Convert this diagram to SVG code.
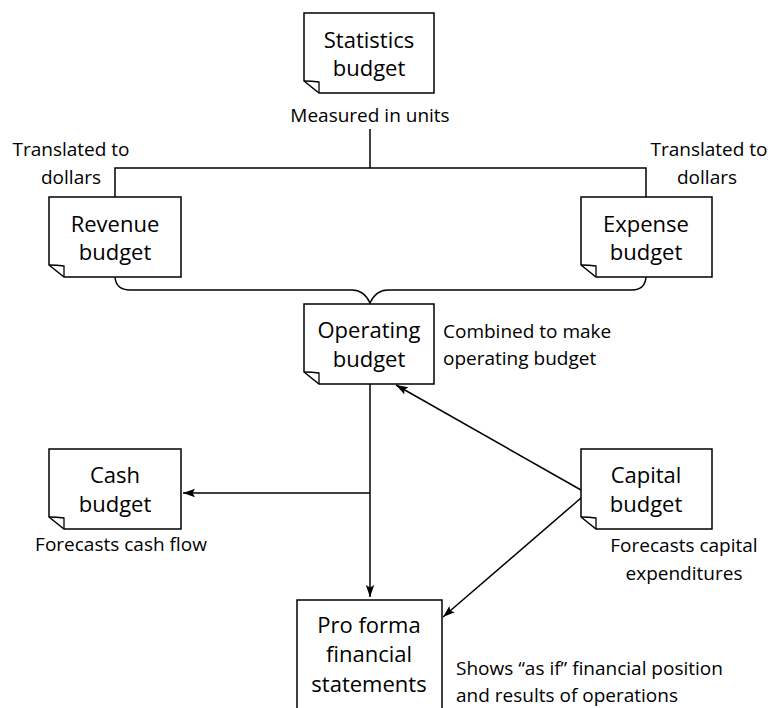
<svg xmlns="http://www.w3.org/2000/svg" width="771" height="708" viewBox="0 0 771 708">
<style>
.box{fill:#fff;stroke:#000;stroke-width:1.5;stroke-linejoin:miter}
.fold{fill:none;stroke:#000;stroke-width:1.3}
.bt{font-family:"Open Sans","Noto Sans","DejaVu Sans",sans-serif;font-size:22px;text-anchor:middle;fill:#000}
.lt{font-family:"Open Sans","Noto Sans","DejaVu Sans",sans-serif;font-size:19px;fill:#000}
.c{text-anchor:middle}
.ln{fill:none;stroke:#000;stroke-width:1.5}
</style>
<defs>
<marker id="ah" markerUnits="userSpaceOnUse" markerWidth="14" markerHeight="10" refX="12" refY="5" orient="auto">
<path d="M0,0.8 L12,5 L0,9.2 L2.5,5 Z" fill="#000"/>
</marker>
</defs>
<g id="connectors">
<path class="ln" d="M370,129 V168"/>
<path class="ln" d="M115,197 V168 H646 V197"/>
<path class="ln" d="M115,277 Q116,290 130,290 H352 Q364,290 370,303 Q376,290 388,290 H632 Q645,290 646,277"/>
<path class="ln" d="M370,384 V597" marker-end="url(#ah)"/>
<path class="ln" d="M370,493 H183" marker-end="url(#ah)"/>
<path class="ln" d="M581,490 L396,385" marker-end="url(#ah)"/>
<path class="ln" d="M581,498 L443,617" marker-end="url(#ah)"/>
</g>
<g id="statistics">
<path class="box" d="M304,13 H434 V93 H319 L304,81 Z"/>
<path class="fold" d="M304,81 Q312,81 319,82 V93"/>
<text class="bt" x="369" y="48">Statistics</text>
<text class="bt" x="369" y="76">budget</text>
<text class="lt c" x="370" y="122">Measured in units</text>
</g>
<g id="revenue">
<path class="box" d="M49,197 H181 V277 H64 L49,265 Z"/>
<path class="fold" d="M49,265 Q57,265 64,266 V277"/>
<text class="bt" x="115" y="232">Revenue</text>
<text class="bt" x="115" y="260">budget</text>
<text class="lt c" x="71" y="156">Translated to</text>
<text class="lt c" x="71" y="184">dollars</text>
</g>
<g id="expense">
<path class="box" d="M581,197 H712 V277 H596 L581,265 Z"/>
<path class="fold" d="M581,265 Q589,265 596,266 V277"/>
<text class="bt" x="646" y="232">Expense</text>
<text class="bt" x="646" y="260">budget</text>
<text class="lt c" x="709" y="156">Translated to</text>
<text class="lt c" x="707" y="184">dollars</text>
</g>
<g id="operating">
<path class="box" d="M304,304 H434 V384 H319 L304,372 Z"/>
<path class="fold" d="M304,372 Q312,372 319,373 V384"/>
<text class="bt" x="369" y="338">Operating</text>
<text class="bt" x="369" y="367">budget</text>
<text class="lt" x="443" y="338">Combined to make</text>
<text class="lt" x="443" y="365">operating budget</text>
</g>
<g id="cash">
<path class="box" d="M49,449 H181 V529 H64 L49,517 Z"/>
<path class="fold" d="M49,517 Q57,517 64,518 V529"/>
<text class="bt" x="115" y="483">Cash</text>
<text class="bt" x="115" y="512">budget</text>
<text class="lt c" x="121" y="551">Forecasts cash flow</text>
</g>
<g id="capital">
<path class="box" d="M581,449 H712 V529 H596 L581,517 Z"/>
<path class="fold" d="M581,517 Q589,517 596,518 V529"/>
<text class="bt" x="646" y="483">Capital</text>
<text class="bt" x="646" y="512">budget</text>
<text class="lt c" x="684" y="552">Forecasts capital</text>
<text class="lt c" x="684" y="580">expenditures</text>
</g>
<g id="proforma">
<rect class="box" x="297" y="600" width="145" height="130"/>
<text class="bt" x="369" y="633">Pro forma</text>
<text class="bt" x="369" y="662">financial</text>
<text class="bt" x="369" y="692">statements</text>
<text class="lt" x="456" y="675">Shows “as if” financial position</text>
<text class="lt" x="456" y="702">and results of operations</text>
</g>
</svg>
